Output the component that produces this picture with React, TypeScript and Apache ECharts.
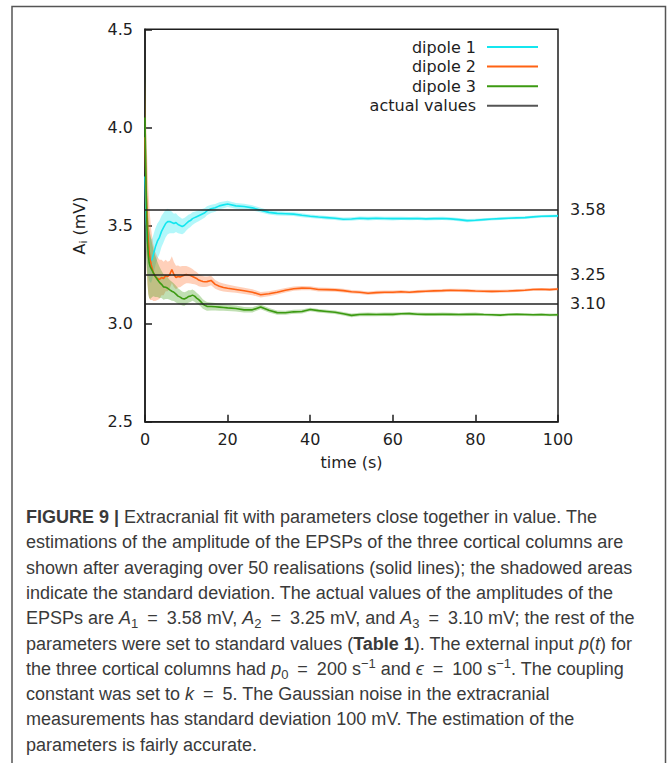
import { useEffect, useRef } from "react";
import * as echarts from "echarts";

// time (s)
const T = [
  0, 0.2, 0.4, 0.6, 0.8, 1, 1.25, 1.5, 1.75, 2,
  2.5, 3, 3.5, 4, 4.5, 5, 5.5, 6, 6.5, 7, 7.5, 8, 8.5, 9, 9.5, 10, 10.5, 11, 11.5, 12, 12.5, 13, 13.5, 14, 14.5, 15,
  16, 17, 18, 19, 20,
  22, 24, 26, 28, 30, 32, 34, 36, 38, 40, 42, 44, 46, 48, 50, 52, 54, 56, 58, 60,
  62, 64, 66, 68, 70, 72, 74, 76, 78, 80, 82, 84, 86, 88, 90, 92, 94, 96, 98, 100,
];

const DIPOLE1 = [
  3.75, 3.6, 3.5, 3.42, 3.38, 3.35, 3.33, 3.32, 3.33, 3.35,
  3.39, 3.42, 3.44, 3.47, 3.49, 3.51, 3.52, 3.52, 3.515, 3.51, 3.515, 3.505, 3.5, 3.495, 3.5, 3.51, 3.52, 3.525, 3.535, 3.54, 3.545, 3.55, 3.555, 3.56, 3.565, 3.575,
  3.585, 3.59, 3.6, 3.605, 3.61,
  3.6, 3.597, 3.59, 3.578, 3.567, 3.562, 3.56, 3.558, 3.552, 3.547, 3.543, 3.54, 3.537, 3.532, 3.533, 3.537, 3.535, 3.537, 3.536, 3.535,
  3.536, 3.535, 3.536, 3.534, 3.535, 3.536, 3.534, 3.53, 3.525, 3.527, 3.53, 3.533, 3.535, 3.537, 3.539, 3.54, 3.544, 3.547, 3.548, 3.549,
];
const DIPOLE2 = [
  3.95, 3.75, 3.6, 3.5, 3.42, 3.37, 3.33, 3.3, 3.28, 3.26,
  3.24, 3.23, 3.225, 3.235, 3.23, 3.245, 3.24, 3.25, 3.275, 3.25, 3.235, 3.24, 3.238, 3.243, 3.247, 3.25, 3.248, 3.245, 3.24, 3.235, 3.23, 3.222, 3.218, 3.215, 3.213, 3.214,
  3.22, 3.2, 3.19, 3.184, 3.18,
  3.174, 3.167, 3.16, 3.147, 3.152, 3.16, 3.17, 3.178, 3.181, 3.18, 3.174, 3.173, 3.172, 3.168, 3.162, 3.16, 3.155, 3.158, 3.16, 3.16,
  3.162, 3.16, 3.163, 3.165, 3.167, 3.168, 3.17, 3.169, 3.168, 3.166, 3.165, 3.164, 3.165, 3.166, 3.168, 3.17, 3.174, 3.175, 3.173, 3.176,
];
const DIPOLE3 = [
  4.05, 3.75, 3.55, 3.42, 3.35, 3.31, 3.29, 3.28, 3.27, 3.26,
  3.24, 3.225, 3.21, 3.2, 3.187, 3.185, 3.18, 3.172, 3.165, 3.16, 3.15, 3.14, 3.135, 3.128, 3.125, 3.13, 3.138, 3.14, 3.145, 3.14, 3.13, 3.122, 3.112, 3.1, 3.093, 3.088,
  3.087, 3.086, 3.084, 3.082, 3.08,
  3.077, 3.07, 3.07, 3.085, 3.068, 3.056, 3.055, 3.06, 3.062, 3.072, 3.066, 3.062, 3.058, 3.05, 3.042, 3.046, 3.047, 3.046, 3.048, 3.047,
  3.05, 3.051, 3.048, 3.047, 3.047, 3.048, 3.047, 3.046, 3.047, 3.048, 3.046, 3.045, 3.043, 3.046, 3.047, 3.046, 3.045, 3.046, 3.044, 3.045,
];

// standard deviations (shadowed areas)
const SD1 = [
  0.25, 0.22, 0.19, 0.16, 0.14, 0.13, 0.12, 0.11, 0.105, 0.1,
  0.095, 0.09, 0.085, 0.08, 0.075, 0.07, 0.065, 0.06, 0.055, 0.05, 0.048, 0.045, 0.042, 0.04, 0.038, 0.036, 0.035, 0.033, 0.032, 0.03, 0.029, 0.028, 0.027, 0.025, 0.024, 0.023,
  0.021, 0.02, 0.018, 0.017, 0.016,
  0.015, 0.014, 0.013, 0.012, 0.011, 0.011, 0.01, 0.01, 0.01, 0.009, 0.009, 0.009, 0.009, 0.009, 0.009, 0.009, 0.009, 0.009, 0.009, 0.009,
  0.008, 0.008, 0.008, 0.008, 0.008, 0.008, 0.008, 0.008, 0.008, 0.008, 0.007, 0.007, 0.007, 0.007, 0.007, 0.007, 0.007, 0.007, 0.007, 0.007,
];
const SD2 = [
  0.3, 0.35, 0.33, 0.3, 0.27, 0.24, 0.21, 0.18, 0.16, 0.145,
  0.125, 0.11, 0.1, 0.09, 0.085, 0.08, 0.075, 0.07, 0.068, 0.064, 0.06, 0.056, 0.053, 0.05, 0.047, 0.044, 0.042, 0.04, 0.038, 0.035, 0.033, 0.031, 0.03, 0.028, 0.027, 0.026,
  0.024, 0.022, 0.021, 0.02, 0.019,
  0.017, 0.016, 0.015, 0.014, 0.013, 0.012, 0.012, 0.011, 0.011, 0.01, 0.01, 0.01, 0.01, 0.01, 0.009, 0.009, 0.009, 0.009, 0.009, 0.009,
  0.009, 0.008, 0.008, 0.008, 0.008, 0.008, 0.008, 0.008, 0.008, 0.008, 0.008, 0.008, 0.008, 0.008, 0.007, 0.007, 0.007, 0.007, 0.007, 0.007,
];
const SD3 = [
  0.3, 0.28, 0.25, 0.22, 0.2, 0.18, 0.165, 0.15, 0.135, 0.12,
  0.105, 0.09, 0.08, 0.07, 0.065, 0.06, 0.055, 0.05, 0.048, 0.045, 0.043, 0.04, 0.038, 0.036, 0.035, 0.033, 0.032, 0.03, 0.029, 0.028, 0.027, 0.026, 0.025, 0.024, 0.023, 0.022,
  0.02, 0.019, 0.018, 0.017, 0.016,
  0.015, 0.014, 0.013, 0.012, 0.011, 0.011, 0.01, 0.01, 0.01, 0.009, 0.009, 0.009, 0.009, 0.009, 0.009, 0.009, 0.009, 0.009, 0.009, 0.009,
  0.008, 0.008, 0.008, 0.008, 0.008, 0.008, 0.008, 0.008, 0.008, 0.008, 0.007, 0.007, 0.007, 0.007, 0.007, 0.007, 0.007, 0.007, 0.007, 0.007,
];

const ACTUAL = [3.58, 3.25, 3.1];
const SERIES_NAMES = ["dipole 1", "dipole 2", "dipole 3", "actual values"];

const CAPTION = [
  "{b|FIGURE 9 |} Extracranial fit with parameters close together in value. The",
  "estimations of the amplitude of the EPSPs of the three cortical columns are",
  "shown after averaging over 50 realisations (solid lines); the shadowed areas",
  "indicate the standard deviation. The actual values of the amplitudes of the",
  "EPSPs are {i|A}{sub|1}\u2002=\u20023.58 mV, {i|A}{sub|2}\u2002=\u20023.25 mV, and {i|A}{sub|3}\u2002=\u20023.10 mV; the rest of the",
  "parameters were set to standard values ({b|Table 1}). The external input {i|p}({i|t}) for",
  "the three cortical columns had {i|p}{sub|0}\u2002=\u2002200 s{sup|−1} and {i|ϵ}\u2002=\u2002100 s{sup|−1}. The coupling",
  "constant was set to {i|k}\u2002=\u20025. The Gaussian noise in the extracranial",
  "measurements has standard deviation 100 mV. The estimation of the",
  "parameters is fairly accurate.",
];

const FONT = "DejaVu Sans";
const CAP_FONT = "Liberation Sans";
const CAP_SIZE = 18;
const INK = "#1e1e1e";
const CAP_INK = "#3a3a3a";
const COLORS = ["#14e6ef", "#ff6213", "#3c9a12", "#555555"];
const BAND_FILLS = ["rgba(20,230,239,0.32)", "rgba(255,110,40,0.32)", "rgba(60,154,18,0.32)"];

function bandSeries(mean: number[], sd: number[], fill: string, idx: number) {
  return {
    type: "custom",
    name: "band" + idx,
    silent: true,
    clip: true,
    z: 1,
    data: [[50, 3.5]],
    renderItem: (_p: any, api: any) => {
      const up = T.map((t, i) => api.coord([t, mean[i] + sd[i]]));
      const lo = T.map((t, i) => api.coord([t, mean[i] - sd[i]])).reverse();
      return {
        type: "polygon",
        shape: { points: up.concat(lo) },
        style: { fill, stroke: "none" },
      };
    },
  };
}

function lineSeries(name: string, mean: number[], color: string) {
  return {
    type: "line",
    name,
    z: 3,
    showSymbol: false,
    symbol: "none",
    color,
    lineStyle: { color, width: 1.6 },
    data: T.map((t, i) => [t, mean[i]]),
  };
}

export default function App() {
  const ref = useRef<HTMLDivElement>(null);
  useEffect(() => {
    const chart = echarts.init(ref.current!, null, { renderer: "svg" });
    const capRich = {
      b: { fontFamily: CAP_FONT, fontSize: CAP_SIZE, fontWeight: "bold", color: "#222", lineHeight: 24 },
      i: { fontFamily: CAP_FONT, fontSize: CAP_SIZE, fontStyle: "italic", color: CAP_INK, lineHeight: 24 },
      sub: { fontFamily: CAP_FONT, fontSize: 13, color: CAP_INK, lineHeight: 13, verticalAlign: "bottom" },
      sup: { fontFamily: CAP_FONT, fontSize: 13, color: CAP_INK, lineHeight: 13, verticalAlign: "top" },
    };
    const option: any = {
      animation: false,
      backgroundColor: "#ffffff",
      textStyle: { fontFamily: FONT },
      grid: {
        left: 145,
        top: 29.3,
        width: 413,
        height: 392.4,
        show: true,
        borderColor: INK,
        borderWidth: 1.5,
        backgroundColor: "transparent",
        containLabel: false,
      },
      legend: {
        data: SERIES_NAMES,
        orient: "vertical",
        right: 129,
        top: 39,
        align: "right",
        icon: "rect",
        itemWidth: 51,
        itemHeight: 2,
        itemGap: 3.6,
        padding: 0,
        selectedMode: false,
        textStyle: { fontFamily: FONT, fontSize: 16, color: INK, lineHeight: 16, padding: [0, 6, 0, 0] },
      },
      xAxis: {
        type: "value",
        min: 0,
        max: 100,
        interval: 20,
        name: "time (s)",
        nameLocation: "middle",
        nameGap: 33,
        nameTextStyle: { fontFamily: FONT, fontSize: 16, color: INK },
        axisLine: { lineStyle: { color: INK, width: 1.5 } },
        axisTick: { inside: true, length: 7, lineStyle: { color: INK, width: 1.5 } },
        axisLabel: { fontFamily: FONT, fontSize: 16, color: INK, margin: 10 },
        splitLine: { show: false },
      },
      yAxis: {
        type: "value",
        min: 2.5,
        max: 4.5,
        interval: 0.5,
        name: "{a|A}{s|i}{a| (mV)}",
        nameLocation: "middle",
        nameGap: 56,
        nameTextStyle: {
          rich: {
            a: { fontFamily: FONT, fontSize: 16, color: INK, lineHeight: 20 },
            s: { fontFamily: FONT, fontSize: 11, color: INK, lineHeight: 12, verticalAlign: "bottom" },
          },
        },
        axisLine: { lineStyle: { color: INK, width: 1.5 } },
        axisTick: { inside: true, length: 7, lineStyle: { color: INK, width: 1.5 } },
        axisLabel: {
          fontFamily: FONT,
          fontSize: 16,
          color: INK,
          margin: 12,
          formatter: (v: number) => v.toFixed(1),
        },
        splitLine: { show: false },
      },
      series: [
        bandSeries(DIPOLE1, SD1, BAND_FILLS[0], 1),
        bandSeries(DIPOLE2, SD2, BAND_FILLS[1], 2),
        bandSeries(DIPOLE3, SD3, BAND_FILLS[2], 3),
        lineSeries(SERIES_NAMES[0], DIPOLE1, COLORS[0]),
        lineSeries(SERIES_NAMES[1], DIPOLE2, COLORS[1]),
        lineSeries(SERIES_NAMES[2], DIPOLE3, COLORS[2]),
        {
          type: "line",
          name: SERIES_NAMES[3],
          z: 4,
          color: COLORS[3],
          lineStyle: { color: COLORS[3] },
          data: [],
          markLine: {
            silent: true,
            symbol: ["none", "none"],
            z: 4,
            lineStyle: { color: "#222", width: 1.5, type: "solid" },
            label: {
              position: "end",
              distance: 12,
              fontFamily: FONT,
              fontSize: 16,
              color: INK,
              formatter: (p: any) => Number(p.value).toFixed(2),
            },
            data: ACTUAL.map((v) => ({ yAxis: v })),
          },
        },
      ],
      graphic: [
        {
          type: "rect",
          silent: true,
          shape: { x: 12, y: 6.5, width: 653.5, height: 800 },
          style: { fill: "none", stroke: "#555", lineWidth: 1.5 },
        },
        ...CAPTION.map((s, i) => ({
          type: "text",
          silent: true,
          x: 26,
          y: 517 + i * 25.3,
          style: {
            text: s,
            fontFamily: CAP_FONT,
            fontSize: CAP_SIZE,
            fill: CAP_INK,
            verticalAlign: "middle",
            align: "left",
            lineHeight: 24,
            rich: capRich,
          },
        })),
      ],
    };
    chart.setOption(option);
    return () => chart.dispose();
  }, []);
  return (
    <div
      ref={ref}
      style={{ position: "absolute", left: 0, top: 0, width: 667, height: 763, background: "#fff" }}
    />
  );
}
